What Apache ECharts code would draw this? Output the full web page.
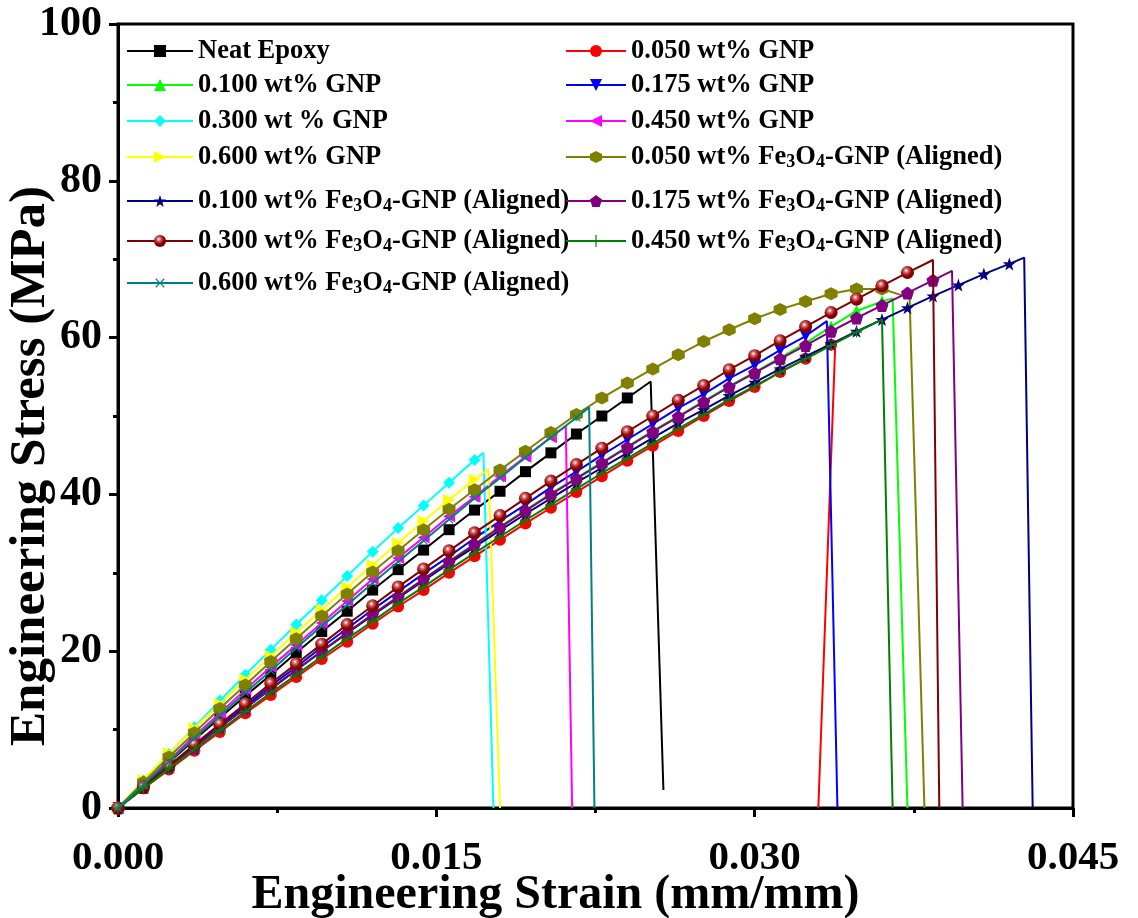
<!DOCTYPE html>
<html>
<head>
<meta charset="utf-8">
<script src="https://cdn.jsdelivr.net/npm/echarts@6/dist/echarts.min.js"></script>
<style>html,body{margin:0;padding:0;background:#fff;}#chart{width:1138px;height:918px;}</style>
</head>
<body>
<div id="chart"></div>
<script>
// ---------- data ----------
const seriesNames = [
  'Neat Epoxy', '0.050 wt% GNP', '0.100 wt% GNP', '0.175 wt% GNP', '0.300 wt % GNP',
  '0.450 wt% GNP', '0.600 wt% GNP', '0.050 wt% Fe3O4-GNP (Aligned)', '0.100 wt% Fe3O4-GNP (Aligned)',
  '0.175 wt% Fe3O4-GNP (Aligned)', '0.300 wt% Fe3O4-GNP (Aligned)', '0.450 wt% Fe3O4-GNP (Aligned)',
  '0.600 wt% Fe3O4-GNP (Aligned)'
];
const strainGrid = [0, 0.0012, 0.0024, 0.0036, 0.0048, 0.006, 0.0072, 0.0084, 0.0096, 0.0108, 0.012, 0.0132,
  0.0144, 0.0156, 0.0168, 0.018, 0.0192, 0.0204, 0.0216, 0.0228, 0.024, 0.0252, 0.0264, 0.0276, 0.0288, 0.03,
  0.0312, 0.0324, 0.0336, 0.0348, 0.036, 0.0372, 0.0384, 0.0396, 0.0408, 0.042];
const neatEpoxy = [0, 2.9, 5.8, 8.7, 11.5, 14.3, 17.0, 19.8, 22.5, 25.1, 27.8, 30.4, 32.9, 35.5, 38.0, 40.4, 42.9, 45.3, 47.7, 50.0, 52.3];
const gnp050 = [0, 2.5, 4.9, 7.3, 9.7, 12.1, 14.4, 16.7, 19.0, 21.2, 23.5, 25.7, 27.8, 30.0, 32.1, 34.2, 36.3, 38.3, 40.3, 42.3, 44.3, 46.2, 48.1, 50.0, 51.9, 53.7, 55.6, 57.3, 59.1];
const gnp100 = [0, 2.6, 5.2, 7.8, 10.3, 12.8, 15.2, 17.6, 20.0, 22.4, 24.7, 27.0, 29.2, 31.5, 33.7, 35.9, 38.0, 40.1, 42.1, 44.1, 46.1, 48.1, 50.0, 51.9, 53.8, 55.6, 57.4, 59.3, 61.4, 63.4, 64.6];
const gnp175 = [0, 2.7, 5.3, 7.9, 10.5, 13.0, 15.6, 18.0, 20.5, 22.9, 25.3, 27.6, 29.9, 32.1, 34.4, 36.6, 38.7, 40.9, 42.9, 45.0, 47.0, 49.0, 51.0, 52.8, 54.8, 56.5, 58.4, 60.2];
const gnp300 = [0, 3.5, 6.9, 10.3, 13.7, 17.0, 20.2, 23.4, 26.5, 29.6, 32.7, 35.7, 38.6, 41.5, 44.4];
const gnp450 = [0, 3.1, 6.1, 9.2, 12.1, 15.1, 18.0, 20.8, 23.6, 26.4, 29.2, 31.9, 34.5, 37.2, 39.7, 42.3, 44.8, 47.3];
const gnp600 = [0, 3.6, 7.0, 10.2, 13.3, 16.4, 19.4, 22.4, 25.3, 28.2, 31.0, 33.8, 36.6, 39.3, 41.9];
const fe050 = [0, 3.3, 6.5, 9.6, 12.7, 15.7, 18.7, 21.6, 24.5, 27.3, 30.1, 32.8, 35.5, 38.1, 40.6, 43.1, 45.5, 47.9, 50.2, 52.3, 54.2, 56.0, 57.8, 59.5, 61.0, 62.4, 63.6, 64.6, 65.6, 66.2, 66.2];
const fe100 = [0, 2.6, 5.2, 7.8, 10.3, 12.8, 15.2, 17.6, 20.0, 22.3, 24.6, 26.8, 29.0, 31.2, 33.3, 35.4, 37.5, 39.5, 41.5, 43.4, 45.3, 47.2, 49.1, 50.8, 52.6, 54.3, 56.0, 57.6, 59.2, 60.8, 62.3, 63.8, 65.3, 66.7, 68.1, 69.4];
const fe175 = [0, 2.6, 5.2, 7.7, 10.3, 12.7, 15.2, 17.6, 20.0, 22.3, 24.7, 26.9, 29.2, 31.4, 33.6, 35.8, 37.9, 40.0, 42.0, 44.0, 46.0, 48.0, 49.9, 51.8, 53.7, 55.5, 57.3, 59.0, 60.8, 62.5, 64.1, 65.7, 67.3];
const fe300 = [0, 2.7, 5.4, 8.1, 10.7, 13.3, 15.9, 18.4, 20.9, 23.4, 25.8, 28.2, 30.5, 32.8, 35.1, 37.3, 39.5, 41.7, 43.8, 45.9, 48.0, 50.0, 52.0, 53.9, 55.9, 57.7, 59.6, 61.4, 63.2, 64.9, 66.6, 68.3];
const fe450 = [0, 2.5, 5.0, 7.5, 9.9, 12.3, 14.7, 17.0, 19.3, 21.6, 23.8, 26.1, 28.2, 30.4, 32.5, 34.6, 36.7, 38.7, 40.7, 42.7, 44.6, 46.5, 48.4, 50.2, 52.1, 53.8, 55.6, 57.3, 59.0, 60.7];
const fe600 = [0, 3.0, 5.9, 8.9, 11.8, 14.7, 17.5, 20.4, 23.2, 25.9, 28.7, 31.4, 34.1, 36.8, 39.5, 42.1, 44.7, 47.3, 49.8];
// last point before fracture, and end of the fracture drop
const peakStrain  = [0.0251, 0.0338, 0.0365, 0.0334, 0.01722, 0.0211, 0.01745, 0.0373, 0.0427, 0.0393, 0.0384, 0.036, 0.0222];
const peakStress  = [54.4, 59.4, 65.0, 62.1, 45.3, 48.7, 43.2, 65.1, 70.2, 68.5, 69.9, 62.3, 51.1];
const breakStrain = [0.0257, 0.0330, 0.0372, 0.0339, 0.01769, 0.0214, 0.0180, 0.0380, 0.0431, 0.0398, 0.0387, 0.0365, 0.02245];
const breakStress = [2.3, 0, 0, 0, 0, 0, 0, 0, 0, 0, 0, 0, 0];
const xTicks = [0, 0.015, 0.03, 0.045];
const yTicks = [0, 20, 40, 60, 80, 100];

// ---------- styles ----------
const stressSets = [neatEpoxy, gnp050, gnp100, gnp175, gnp300, gnp450, gnp600, fe050, fe100, fe175, fe300, fe450, fe600];
const colors = ['#000000', '#ff0000', '#00ff00', '#0000ff', '#00ffff', '#ff00ff', '#ffff00',
  '#808000', '#000080', '#800080', '#800000', '#008000', '#008080'];
const HEX = 'path://M0,-10L8.66,-5L8.66,5L0,10L-8.66,5L-8.66,-5Z';
const PENT = 'path://M0,-10L9.51,-3.09L5.88,8.09L-5.88,8.09L-9.51,-3.09Z';
const STAR = 'path://M0,-10L2.35,-3.24L9.51,-3.09L3.8,1.24L5.88,8.09L0,4L-5.88,8.09L-3.8,1.24L-9.51,-3.09L-2.35,-3.24Z';
const PLUS = 'path://M-1,-10H1V-1H10V1H1V10H-1V1H-10V-1H-1Z';
const symbols = ['rect', 'circle', 'triangle', 'triangle', 'diamond', 'triangle', 'triangle', HEX, STAR, PENT, 'circle', PLUS, PLUS];
const rotates = [0, 0, 0, 180, 0, 90, -90, 0, 0, 0, 0, 0, 45];
const sizes = [11, 12, 12, 12, 12, 12, 12, 13, 13, 13, 13, 11, 11];

const series = seriesNames.map((name, i) => {
  const data = stressSets[i].map((v, k) => [strainGrid[k], v]);
  data.push({ value: [peakStrain[i], peakStress[i]], symbol: 'none' });
  data.push({ value: [breakStrain[i], breakStress[i]], symbol: 'none' });
  let itemColor = colors[i];
  if (i === 10) {
    itemColor = { type: 'radial', x: 0.4, y: 0.35, r: 0.7,
      colorStops: [{ offset: 0, color: '#ffffff' }, { offset: 0.25, color: '#d06060' }, { offset: 0.6, color: '#900000' }, { offset: 1, color: '#700000' }] };
  }
  return {
    name: name,
    type: 'line',
    data: data,
    symbol: symbols[i],
    symbolRotate: rotates[i],
    symbolSize: sizes[i],
    showAllSymbol: true,
    lineStyle: { color: colors[i], width: 2 },
    itemStyle: { color: itemColor, borderWidth: 0 },
    emphasis: { disabled: true },
    z: 2 + i
  };
});

const font = "'Liberation Serif', 'Times New Roman', serif";
const legendRows = [49, 83, 119, 155, 199, 239, 281];
const legends = seriesNames.map((name, i) => {
  const col = i % 2;
  const row = Math.floor(i / 2);
  return {
    data: [name],
    orient: 'vertical',
    left: col === 0 ? 126 : 565,
    top: legendRows[row] - 12,
    padding: 0,
    itemWidth: col === 0 ? 66 : 60,
    itemHeight: 15,
    selectedMode: false,
    formatter: n => n.replace('Fe3O4', 'Fe{sub|3}O{sub|4}'),
    textStyle: {
      fontFamily: font, fontWeight: 'bold', fontSize: 26.5, color: '#000', lineHeight: 28,
      rich: { sub: { fontFamily: font, fontWeight: 'bold', fontSize: 18, lineHeight: 6, verticalAlign: 'bottom', color: '#000' } }
    }
  };
});

const chart = echarts.init(document.getElementById('chart'), null, { renderer: 'canvas' });
chart.setOption({
  animation: false,
  backgroundColor: '#ffffff',
  grid: { left: 118, right: 65, top: 24, bottom: 110, show: true, borderColor: '#000', borderWidth: 3,
    backgroundColor: 'transparent', outerBoundsMode: 'none', containLabel: false },
  legend: legends,
  xAxis: {
    type: 'value', min: xTicks[0], max: xTicks[xTicks.length - 1], interval: xTicks[1] - xTicks[0],
    name: 'Engineering Strain (mm/mm)', nameLocation: 'middle', nameGap: 64, nameMoveOverlap: false,
    nameTextStyle: { fontFamily: font, fontWeight: 'bold', fontSize: 48, color: '#000', padding: [0, 80, 0, 0] },
    axisLine: { show: true, lineStyle: { color: '#000', width: 3 } },
    axisTick: { show: true, inside: false, length: 9, lineStyle: { width: 3, color: '#000' } },
    minorTick: { show: true, splitNumber: 2, length: 5, lineStyle: { width: 3, color: '#000' } },
    splitLine: { show: false },
    axisLabel: { fontFamily: font, fontWeight: 'bold', fontSize: 41, color: '#000', margin: 30,
      formatter: v => v.toFixed(3) }
  },
  yAxis: {
    type: 'value', min: yTicks[0], max: yTicks[yTicks.length - 1], interval: yTicks[1] - yTicks[0],
    name: 'Engineering Stress (MPa)', nameLocation: 'middle', nameGap: 62, nameMoveOverlap: false,
    nameTextStyle: { fontFamily: font, fontWeight: 'bold', fontSize: 51, color: '#000', padding: [0, 100, 0, 0] },
    axisLine: { show: true, lineStyle: { color: '#000', width: 3 } },
    axisTick: { show: true, inside: false, length: 9, lineStyle: { width: 3, color: '#000' } },
    minorTick: { show: true, splitNumber: 2, length: 5, lineStyle: { width: 3, color: '#000' } },
    splitLine: { show: false },
    axisLabel: { fontFamily: font, fontWeight: 'bold', fontSize: 42, color: '#000', margin: 16 }
  },
  series: series
});
</script>
</body>
</html>
